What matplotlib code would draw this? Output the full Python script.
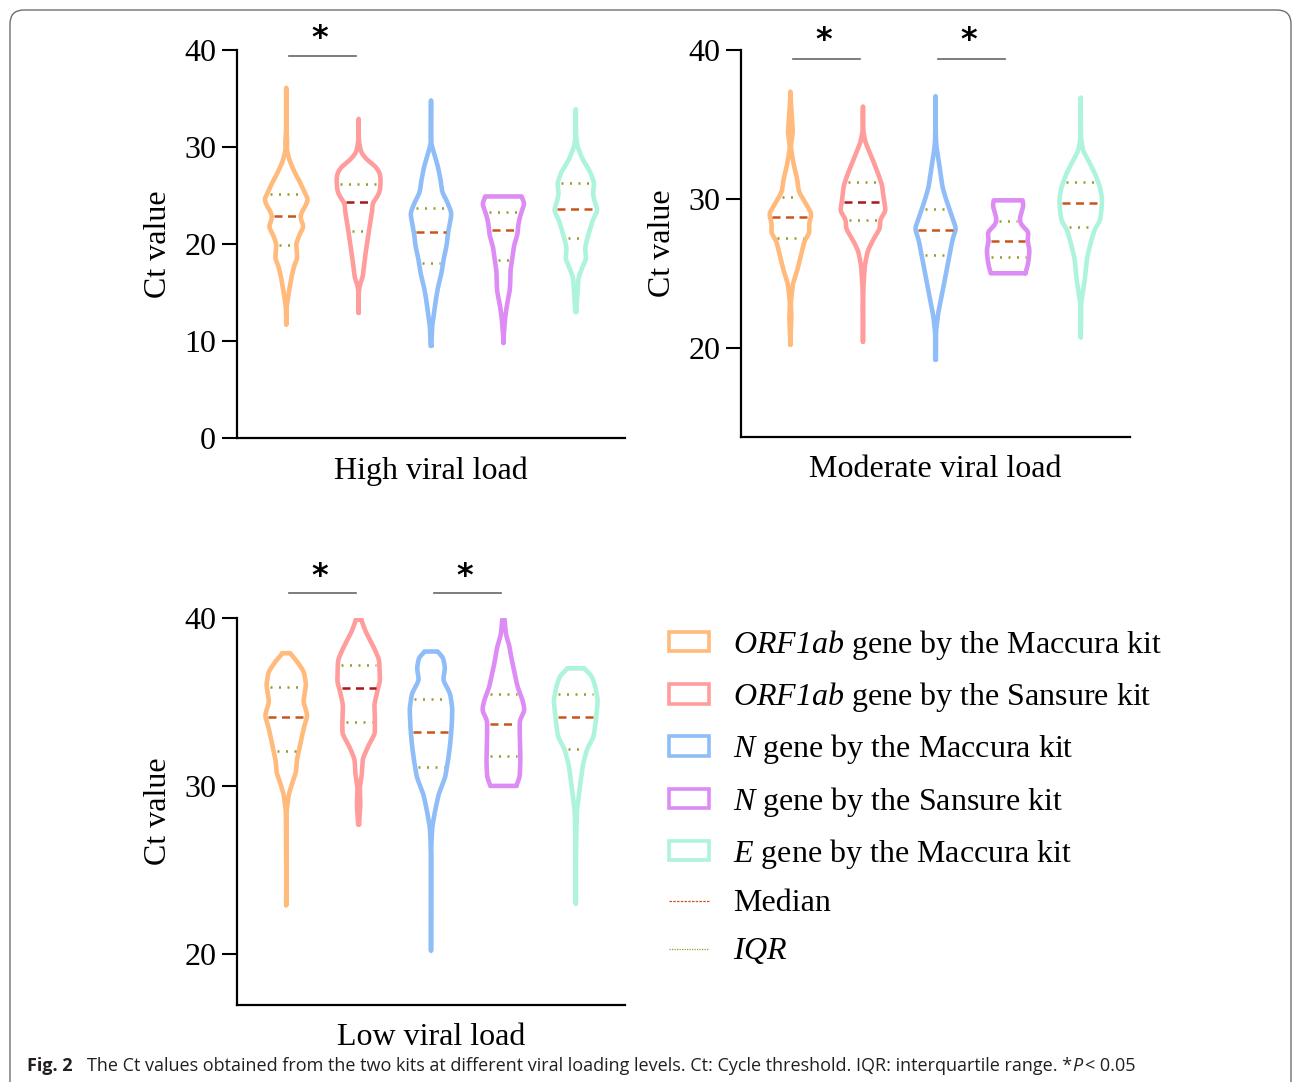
import matplotlib

matplotlib.use("Agg")
import matplotlib.pyplot as plt  # noqa: E402
import numpy as np  # noqa: E402
from matplotlib import font_manager  # noqa: E402
from matplotlib.lines import Line2D  # noqa: E402
from matplotlib.patches import FancyBboxPatch, Patch  # noqa: E402

plt.rcParams["font.family"] = ["Liberation Serif", "DejaVu Serif"]
# math parts are only used for italic gene names, so digits go italic too
plt.rcParams["mathtext.fontset"] = "custom"
plt.rcParams["mathtext.rm"] = "Liberation Serif:italic"
plt.rcParams["mathtext.it"] = "Liberation Serif:italic"

# ---- data ---------------------------------------------------------------
series_labels = [
    r"$ORF1ab$ gene by the Maccura kit",
    r"$ORF1ab$ gene by the Sansure kit",
    r"$N$ gene by the Maccura kit",
    r"$N$ gene by the Sansure kit",
    r"$E$ gene by the Maccura kit",
]
series_colors = ["#FFBA7C", "#FF9D9D", "#8FBDF8", "#DD8CF5", "#AEF3DB"]
median_colors = ["#C8561C", "#A81818", "#C8561C", "#C8561C", "#C8561C"]

# violin outlines: (Ct, half width in % of group spacing)
high_profiles = [
    [(11.7, 1), (13.5, 2), (15.0, 5), (16.7, 9), (17.9, 13), (18.5, 17), (19.2, 16),
     (20.0, 15), (21.0, 20), (21.8, 26), (22.6, 21), (23.2, 22), (23.9, 28), (24.6, 32),
     (25.3, 27), (26.3, 21), (27.4, 13), (28.6, 6), (29.8, 2), (30.4, 3), (31.2, 2),
     (33.0, 1), (36.1, 1)],
    [(12.9, 1), (14.5, 1), (15.8, 3), (16.5, 7), (17.8, 9), (19.0, 11), (20.5, 14),
     (22.0, 17), (23.3, 20), (24.3, 21), (24.8, 27), (25.5, 31), (26.5, 32), (27.3, 31),
     (28.0, 25), (28.6, 14), (29.4, 5), (30.5, 2), (32.9, 1)],
    [(9.5, 2), (11.5, 3), (13.0, 6), (14.2, 8), (15.5, 11), (17.0, 16), (18.5, 19),
     (19.8, 23), (21.2, 25), (22.3, 28), (23.2, 30), (24.5, 23), (25.3, 17), (26.5, 15),
     (28.0, 11), (29.5, 5), (30.3, 2), (31.5, 1), (34.8, 1)],
    [(9.8, 1), (12.5, 4), (14.0, 7), (15.0, 10), (16.0, 11), (17.2, 11), (18.6, 14),
     (19.8, 16), (21.0, 21), (22.0, 22), (23.0, 25), (24.2, 31), (24.9, 26)],
    [(13.0, 2), (15.0, 4), (16.5, 5), (17.5, 10), (18.5, 16), (19.5, 14), (20.5, 17),
     (21.5, 21), (22.5, 25), (23.5, 32), (24.2, 28), (25.2, 25), (26.3, 27), (27.5, 21),
     (28.7, 11), (30.0, 4), (31.0, 2), (33.9, 1)],
]
high_median = [22.9, 24.3, 21.2, 21.4, 23.6]
high_q1 = [19.9, 21.3, 18.0, 18.3, 20.6]
high_q3 = [25.2, 26.2, 23.7, 23.3, 26.3]

moderate_profiles = [
    [(20.2, 1), (22.0, 3), (23.0, 2), (24.3, 5), (25.2, 11), (26.2, 16), (27.2, 21),
     (27.7, 28), (28.3, 27), (29.0, 31), (29.8, 21), (30.5, 13), (31.3, 11), (32.3, 6),
     (33.5, 2), (34.5, 5), (35.8, 3), (37.2, 1)],
    [(20.4, 1), (24.0, 2), (25.5, 4), (26.5, 8), (27.3, 16), (28.0, 25), (28.6, 25),
     (29.2, 33), (30.0, 30), (30.9, 28), (31.6, 23), (32.5, 16), (33.3, 9), (33.8, 5),
     (34.5, 2), (36.2, 1)],
    [(19.2, 2), (21.0, 2), (22.3, 5), (23.5, 10), (25.0, 16), (26.3, 21), (27.3, 25),
     (28.0, 30), (28.8, 24), (29.8, 17), (30.8, 11), (32.2, 7), (33.4, 3), (34.0, 2),
     (36.9, 1)],
    [(25.0, 25), (25.4, 28), (26.0, 30), (26.6, 31), (27.2, 28), (27.8, 30), (28.2, 20),
     (28.6, 17), (29.1, 20), (29.6, 23), (29.9, 21)],
    [(20.7, 1), (21.5, 2), (23.0, 2), (24.5, 7), (26.0, 10), (27.2, 16), (28.0, 21),
     (28.5, 28), (29.2, 30), (30.0, 31), (30.8, 28), (31.6, 22), (32.4, 14), (33.2, 5),
     (34.0, 2), (36.8, 1)],
]
moderate_median = [28.8, 29.8, 27.9, 27.2, 29.7]
moderate_q1 = [27.4, 28.6, 26.2, 26.1, 28.1]
moderate_q3 = [30.1, 31.1, 29.3, 28.5, 31.1]

low_profiles = [
    [(22.9, 1), (28.5, 2), (29.5, 5), (30.2, 10), (30.8, 15), (31.5, 16), (32.7, 22),
     (33.5, 26), (34.2, 31), (35.0, 25), (36.0, 29), (36.8, 26), (37.5, 15), (37.9, 6)],
    [(27.7, 2), (28.9, 4), (29.9, 3), (30.7, 6), (31.6, 7), (32.4, 15), (33.1, 24),
     (34.0, 24), (34.8, 23), (35.6, 27), (36.2, 31), (37.5, 30), (38.2, 23), (39.2, 11),
     (39.9, 5)],
    [(20.2, 1), (25.6, 1), (27.5, 3), (28.5, 7), (29.5, 12), (30.5, 21), (31.5, 25),
     (32.5, 28), (33.5, 30), (34.6, 31), (35.5, 28), (36.3, 18), (37.0, 21), (37.7, 18),
     (38.0, 9)],
    [(30.0, 19), (30.5, 24), (31.5, 25), (33.1, 24), (33.9, 24), (34.5, 31), (35.1, 28),
     (35.9, 21), (36.7, 17), (37.5, 13), (38.3, 10), (39.0, 5), (39.9, 3)],
    [(23.0, 1), (26.9, 2), (28.5, 3), (29.9, 7), (31.2, 11), (32.2, 17), (32.9, 26),
     (33.5, 28), (34.2, 30), (35.1, 32), (36.0, 28), (36.6, 23), (37.0, 12)],
]
low_median = [34.1, 35.8, 33.2, 33.7, 34.1]
low_q1 = [32.1, 33.8, 31.1, 31.8, 32.2]
low_q3 = [35.9, 37.2, 35.2, 35.5, 35.5]

# significant pairs (group indices, 1-based)
high_pairs = [(1, 2)]
moderate_pairs = [(1, 2), (3, 4)]
low_pairs = [(1, 2), (3, 4)]

LW = 3.3  # outline width, pt
EDGE = 0.015  # shrink so the outer edge of the stroke sits on the read width
FS = 23


def smooth_profile(prof, sigma):
    ct = np.array([p[0] for p in prof], dtype=float)
    w = np.array([p[1] for p in prof], dtype=float) / 100.0
    grid = np.linspace(ct[0], ct[-1], 500)
    wg = np.interp(grid, ct, w)
    step = grid[1] - grid[0]
    k = int(3 * sigma / step) + 1
    kern = np.exp(-0.5 * (np.arange(-k, k + 1) * step / sigma) ** 2)
    kern /= kern.sum()
    ws = np.convolve(np.pad(wg, k, mode="edge"), kern, mode="valid")
    return grid, ws


def draw_panel(ax, profiles, med, q1, q3, ylim, yticks, xlabel, pairs, bar_y, star_y):
    sigma = 0.006 * (ylim[1] - ylim[0])
    for i, prof in enumerate(profiles):
        c = i + 1
        grid, ws = smooth_profile(prof, sigma)
        wd = np.clip(ws - EDGE, 0.0, None)
        xs = np.concatenate([c + wd, (c - wd)[::-1], [c + wd[0]]])
        ys = np.concatenate([grid, grid[::-1], [grid[0]]])
        ax.plot(xs, ys, color=series_colors[i], lw=LW, solid_joinstyle="round",
                solid_capstyle="round", zorder=3)
        hw = max(np.interp(med[i], grid, ws) - 0.05, 0.03)
        ax.plot([c - hw, c + hw], [med[i], med[i]], color=median_colors[i], lw=1.8,
                ls=(0, (3.2, 2.2)), zorder=4)
        for q in (q1[i], q3[i]):
            hq = max(np.interp(q, grid, ws) - 0.06, 0.03)
            ax.plot([c - hq, c + hq], [q, q], color="#9A9A28", lw=1.8,
                    ls=(0, (0.8, 2.6)), zorder=4)

    for a, b in pairs:
        ax.plot([a + 0.04, b - 0.04], [bar_y, bar_y], color="#666666", lw=1.2,
                clip_on=False)
        ax.text((a + b) / 2 - 0.04, star_y, "*", ha="center", va="center",
                fontsize=23, fontweight="heavy", family="DejaVu Sans", clip_on=False)

    ax.set_xlim(0.32, 5.68)
    ax.set_ylim(*ylim)
    ax.set_yticks(yticks)
    ax.set_xticks([])
    for s in ("top", "right"):
        ax.spines[s].set_visible(False)
    for s in ("left", "bottom"):
        ax.spines[s].set_linewidth(1.6)
    ax.tick_params(axis="y", direction="out", length=11, width=1.5, labelsize=FS, pad=4)
    ax.set_ylabel("Ct value", fontsize=FS, labelpad=8)
    ax.set_xlabel(xlabel, fontsize=FS, labelpad=13)


fig = plt.figure(figsize=(12.93, 10.82), dpi=100)

ax1 = fig.add_axes([0.1833, 0.5952, 0.3001, 0.3586])
ax2 = fig.add_axes([0.5731, 0.5961, 0.3009, 0.3577])
ax3 = fig.add_axes([0.1833, 0.0712, 0.3001, 0.3577])

draw_panel(ax1, high_profiles, high_median, high_q1, high_q3, (0, 40),
           [0, 10, 20, 30, 40], "High viral load", high_pairs, 39.4, 41.2)
draw_panel(ax2, moderate_profiles, moderate_median, moderate_q1, moderate_q3, (14, 40),
           [20, 30, 40], "Moderate viral load", moderate_pairs, 39.4, 40.65)
draw_panel(ax3, low_profiles, low_median, low_q1, low_q3, (16.96, 40),
           [20, 30, 40], "Low viral load", low_pairs, 41.5, 42.45)

handles = [Patch(facecolor="none", edgecolor=c, lw=2.6) for c in series_colors]
handles.append(Line2D([], [], color="#C8561C", lw=0.9, ls=(0, (2, 1))))
handles.append(Line2D([], [], color="#9A9A28", lw=0.9, ls=(0, (1, 1))))
labels = series_labels + ["Median", r"$IQR$"]
fig.legend(handles, labels, loc="upper left", bbox_to_anchor=(669 / 1293, 1 - 628 / 1082),
           frameon=False, fontsize=FS, handlelength=1.25, handleheight=0.56,
           handletextpad=0.75, labelspacing=0.57, borderpad=0, borderaxespad=0)

# outer frame of the figure page
fig.patches.append(FancyBboxPatch((10, -40), 1281, 1082 - 10 + 40, transform=None,
                                  boxstyle="round,pad=0,rounding_size=14",
                                  facecolor="none", edgecolor="#6E6E6E", lw=1.0))

names = {f.name for f in font_manager.fontManager.ttflist}
cap_font = "Liberation Sans Narrow" if "Liberation Sans Narrow" in names else "Open Sans"
cap_size = 14 if cap_font == "Liberation Sans Narrow" else 13
cap_y = 1 - 1066 / 1082
fig.text(27 / 1293, cap_y, "Fig. 2", family=cap_font, fontsize=cap_size,
         fontweight="bold", va="center", color="#231F20")
t1 = fig.text(87 / 1293, cap_y,
              "The Ct values obtained from the two kits at different viral loading levels. "
              "Ct: Cycle threshold. IQR: interquartile range. *",
              family=cap_font, fontsize=cap_size, va="center", color="#231F20")
renderer = fig.canvas.get_renderer()
bb = t1.get_window_extent(renderer)
t2 = fig.text(bb.x1 / 1293, cap_y, "P", family=cap_font, fontsize=cap_size,
              style="italic", va="center", color="#231F20")
bb2 = t2.get_window_extent(renderer)
fig.text(bb2.x1 / 1293, cap_y, "\u2009< 0.05", family=cap_font, fontsize=cap_size,
         va="center", color="#231F20")

fig.savefig("out.png", dpi=100)
